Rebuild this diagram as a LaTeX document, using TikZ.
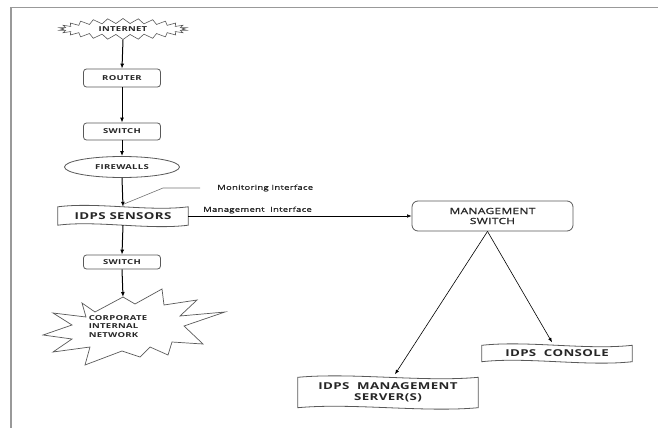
\documentclass[tikz,border=0pt]{standalone}
\usepackage{fontspec}
\setmainfont{Open Sans}
\newfontfamily\widefam[FakeStretch=1.4,LetterSpace=4]{Open Sans}
\newfontfamily\semifam[FakeStretch=1.4,LetterSpace=4,FakeBold=1.3]{Open Sans}
\usetikzlibrary{shapes.symbols,shapes.geometric,arrows.meta,calc}
\newcommand{\fsmall}{\widefam\bfseries\fontsize{6.8}{8.6}\selectfont}
\newcommand{\fbig}{\widefam\bfseries\fontsize{9.5}{11}\selectfont}
\newcommand{\fmid}{\semifam\fontsize{8.5}{10}\selectfont}
\newcommand{\flab}{\semifam\fontsize{6.8}{8}\selectfont}
\newcommand{\wavy}[1]{%
  \draw[boxline] (#1.south west) -- (#1.north west)
   .. controls ($(#1.north west)!0.3!(#1.north east)+(0,-5)$) and ($(#1.north west)!0.7!(#1.north east)+(0,5)$) .. (#1.north east)
   -- (#1.south east)
   .. controls ($(#1.south east)!0.3!(#1.south west)+(0,5)$) and ($(#1.south east)!0.7!(#1.south west)+(0,-5)$) .. (#1.south west) -- cycle;}
\tikzset{
  boxline/.style={draw=black!65, line width=0.8pt},
  rbox/.style={boxline, rounded corners=3pt, inner sep=0pt, text=black!85},
  plain/.style={inner sep=0pt, text=black!85},
  arr/.style={-{Latex[length=5pt,width=4pt]}, line width=1pt},
  thin arr/.style={-{Latex[length=4.5pt,width=3.5pt]}, line width=0.6pt},
}
\begin{document}
\begin{tikzpicture}[x=1pt,y=-1pt]
\useasboundingbox (0,0) rectangle (658,428);
% frame
\draw[black!40, line width=1.8pt] (658,7.5) -- (11,7.5) -- (11,428);
% nodes
\node[starburst, boxline, line width=0.6pt, starburst points=26, starburst point height=5pt,
      random starburst=0, minimum width=128pt, minimum height=21pt, inner sep=0pt,
      text=black!85, font=\fsmall] (inet) at (123,29) {INTERNET};
\node[rbox, minimum width=77pt, minimum height=18pt, font=\fsmall] (router) at (122,78) {ROUTER};
\node[rbox, minimum width=77pt, minimum height=17pt, font=\fsmall] (sw1) at (122,131.5) {SWITCH};
\node[ellipse, boxline, minimum width=115pt, minimum height=21pt, inner sep=0pt,
      text=black!85, font=\fsmall] (fw) at (122,167) {FIREWALLS};
\node[plain, minimum width=130pt, minimum height=18pt, font=\fbig] (idps) at (123,216) {IDPS SENSORS};
\wavy{idps}
\node[rbox, minimum width=77pt, minimum height=14pt, font=\fsmall] (sw2) at (122,262) {SWITCH};
\node[plain, align=left, font=\fsmall] (cin) at (118,326.5) {CORPORATE\\INTERNAL\\NETWORK};
\draw[boxline, line width=0.7pt] (82,303) -- (95,312) -- (123,297) -- (135,304) -- (162,289) -- (164,305)
  -- (197,300) -- (180,316) -- (225,312) -- (184,326) -- (203,344) -- (172,342) -- (168,355)
  -- (150,347) -- (140,357) -- (122,351) -- (85,365) -- (90,347) -- (53,352) -- (72,339)
  -- (43,335) -- (72,325) -- (53,313) -- (86,317) -- cycle;
\coordinate (cintop) at (123,297);
\node[rbox, rounded corners=6pt, minimum width=161pt, minimum height=30pt, align=center,
      font=\fmid] (ms) at (492.5,216) {MANAGEMENT\\SWITCH};
\node[plain, minimum width=150pt, minimum height=16pt, font=\fbig] (con) at (557,353.5) {IDPS\ \ CONSOLE};
\wavy{con}
\node[plain, minimum width=180pt, minimum height=30pt, align=center, font=\fbig] (srv) at (388,392.5) {IDPS\ \ MANAGEMENT\\SERVER(S)};
\wavy{srv}
% labels
\node[plain, anchor=west, font=\flab] (mon) at (217,188) {Monitoring Interface};
\node[plain, anchor=west, font=\flab] (mgmt) at (203,210) {Management\ \ Interface};
% connectors
\draw[arr] (inet.south) -- (router.north);
\draw[arr] (router.south) -- (sw1.north);
\draw[arr] (sw1.south) -- (fw.north);
\draw[arr] (fw.south) -- (idps.north);
\draw[arr] (idps.south) -- (sw2.north);
\draw[arr] (sw2.south) -- (cintop);
\coordinate (mtip) at (124,204);
\coordinate (m1) at (200,188);
\coordinate (m2) at (163,188);
\draw[black!55, line width=0.6pt] (m1) -- (m2) -- (mtip);
\draw[thin arr] (idps.east) -- (ms.west);
\coordinate (msb) at ($(ms.south)+(-5,0)$);
\draw[thin arr] (msb) -- ($(con.north)+(-5,-3)$);
\draw[thin arr] (msb) -- ($(srv.north)+(7,-3)$);
\end{tikzpicture}
\end{document}
